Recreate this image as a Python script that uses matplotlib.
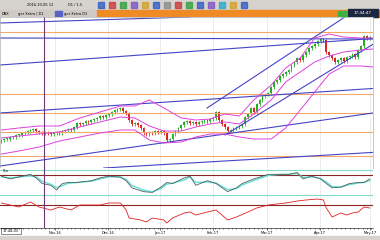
import numpy as np
import matplotlib
matplotlib.use("Agg")
import matplotlib.pyplot as plt
from matplotlib.patches import Rectangle

# ---- data (price in chart points, x = bar number) ----
closes = [28, 29, 29, 31, 31, 33, 33, 35, 36, 37, 38, 39, 37, 36, 35, 36, 35, 34, 35, 36,
          35, 37, 38, 39, 38, 41, 45, 44, 45, 47, 46, 48, 49, 50, 52, 51, 53, 54, 56, 58,
          59, 60, 57, 55, 48, 44, 45, 43, 40, 35, 34, 36, 35, 37, 36, 37, 35, 28, 29, 34,
          37, 40, 43, 46, 47, 45, 46, 44, 46, 47, 48, 47, 49, 50, 56, 48, 44, 41, 37, 38,
          40, 41, 42, 44, 51, 54, 60, 56, 64, 68, 72, 74, 75, 81, 86, 88, 92, 94, 96, 98,
          103, 106, 110, 108, 113, 116, 120, 122, 124, 127, 129, 128, 116, 113, 110, 106, 108, 110, 107, 111,
          112, 114, 111, 118, 122, 132, 130, 131]

bb_x = [0, 6, 13, 20, 27, 34, 41, 46, 51, 56, 62, 67, 72, 77, 82, 87, 93, 98, 103, 108, 113, 118, 124, 128]
bb_up = [38, 40, 42, 42, 50, 56, 62, 62, 68, 60, 50, 48, 49, 54, 52, 68, 83, 100, 110, 130, 134, 131, 130, 130]
bb_mid = [30, 32, 34, 36, 41, 46, 51, 50, 42, 37, 37, 41, 44, 46, 44, 54, 68, 86, 96, 106, 112, 116, 118, 119]
bb_low = [14, 17, 21, 27, 31, 35, 38, 38, 28, 25, 26, 31, 34, 34, 31, 29, 29, 40, 58, 76, 94, 102, 102, 101]

# trend lines: (x0, y0, x1, y1)
blue_lines = [(-0.5, 145, 65, 151), (-0.5, 130, 130.5, 129), (-0.5, 103, 130.5, 130),
              (70.9, 60, 118.4, 151), (77.1, 33, 130.5, 128), (-0.5, 55, 130.5, 80),
              (-0.5, 2, 130.5, 56), (35.3, 0, 130.5, 16)]
orange_levels = [136, 74, 55, 36, 12]
marker_bar = 14.7

osc_x = [0, 3, 10, 12, 14, 17, 19, 21, 23, 26, 31, 34, 37, 41, 43, 45, 49, 52, 55, 57, 59, 63,
         65, 67, 71, 74, 78, 81, 83, 87, 92, 96, 99, 102, 104, 107, 110, 112, 114, 117, 120, 123, 125, 127]
osc_k = [75, 64, 82, 68, 46, 39, 21, 46, 50, 50, 57, 68, 75, 71, 57, 29, 14, 11, 32, 50, 46, 68,
         75, 39, 57, 46, 14, 29, 46, 64, 82, 82, 82, 89, 64, 75, 64, 46, 29, 32, 46, 50, 50, 64]
osc_d = [72, 68, 76, 72, 55, 43, 30, 38, 47, 50, 55, 64, 72, 72, 62, 38, 20, 13, 26, 44, 47, 60,
         72, 50, 52, 48, 22, 26, 40, 58, 78, 82, 82, 86, 70, 72, 66, 52, 34, 32, 42, 48, 50, 58]

mom_x = [0, 3, 6, 10, 13, 17, 20, 24, 27, 31, 34, 37, 41, 43, 44, 48, 50, 52, 56, 57, 59, 63,
         65, 67, 71, 74, 78, 81, 85, 88, 92, 95, 98, 102, 105, 109, 111, 112, 114, 117, 119, 121, 123, 125, 127]
mom = [25, 23, 21, 26, 21, 18, 21, 18, 23, 23, 23, 25, 25, 18, 10, 8, 6, 10, 8, 5, 10, 15,
       16, 13, 16, 18, 8, 11, 16, 20, 23, 24, 25, 27, 28, 29, 28, 20, 11, 15, 13, 15, 16, 21, 20]

date_pos = [18.5, 36.7, 54.7, 72.9, 91.6, 109.8, 127]
date_lbl = ["Nov-16", "Dec-16", "Jan-17", "Feb-17", "Mar-17", "Apr-17", "May-17"]

W, H = 380, 240


def rect(x0, y0, x1, y1):
    return [x0 / W, 1 - y1 / H, (x1 - x0) / W, (y1 - y0) / H]


fig = plt.figure(figsize=(3.8, 2.4), dpi=100)
fig.patch.set_facecolor("white")

# window chrome
chrome = fig.add_axes([0, 0, 1, 1])
chrome.set_xlim(0, W)
chrome.set_ylim(H, 0)
chrome.axis("off")
chrome.add_patch(Rectangle((0, 0), W, 10, color="#d6d3ce"))
chrome.add_patch(Rectangle((0, 10), 97, 7, color="#cfcbc4"))
chrome.add_patch(Rectangle((97, 10), W - 97, 7, color="#f08a24"))
chrome.add_patch(Rectangle((348, 9), 30, 8, color="#1c2740"))
chrome.text(363, 13, "17:44:47", color="white", fontsize=3, ha="center", va="center")
chrome.add_patch(Rectangle((338, 11), 8, 5, color="#3cb043"))
chrome.text(2, 14, "DAX", fontsize=2.6, va="center")
chrome.text(18, 14, "ger Xetra | D1", fontsize=2.6, va="center")
chrome.add_patch(Rectangle((55, 11), 7, 5, color="#5a62c8"))
chrome.text(64, 14, "ger Xetra D1", fontsize=2.6, va="center")
chrome.text(27, 5, "2016.10.05 12", fontsize=2.6, va="center")
chrome.text(68, 5, "D1 / 1.5", fontsize=2.6, va="center")
icon_cols = ["#2a56c6", "#c83232", "#2a9d3a", "#7a4fc2", "#d4a020", "#2a56c6", "#888888",
             "#c83232", "#2a9d3a", "#2a56c6", "#7a4fc2", "#20a8c8", "#d4a020", "#2a56c6"]
for k, c in enumerate(icon_cols):
    chrome.add_patch(Rectangle((98 + k * 11, 2), 6, 6, color=c, alpha=0.75))
chrome.add_patch(Rectangle((0, 236), W, 4, color="#d6d3ce"))

# main price chart
ax = fig.add_axes(rect(0, 17, 373, 168))
x = np.arange(len(closes))
opens = [closes[0] - 1] + closes[:-1]
for i in x:
    o, c = opens[i], closes[i]
    col = "#22b022" if c >= o else "#dd2222"
    ax.vlines(i, min(o, c) - 1.5, max(o, c) + 1.5, color=col, lw=0.6)
    ax.bar(i, max(abs(c - o), 0.8), bottom=min(o, c), width=0.6, color=col, lw=0)
for lv in orange_levels:
    ax.axhline(lv, color="#f2a86a", lw=0.8)
for x0, y0, x1, y1 in blue_lines:
    ax.plot([x0, x1], [y0, y1], color="#4444c8", lw=0.8)
for band in (bb_up, bb_mid, bb_low):
    ax.plot(bb_x, band, color="#e040e0", lw=0.7)
for d in date_pos:
    ax.axvline(d, color="#e4e4e4", lw=0.5, zorder=0)
ax.set_xlim(-0.5, 128.1)
ax.set_ylim(0, 151)
ax.set_xticks([])
ax.set_yticks([])
for s in ax.spines.values():
    s.set_color("#b0b0b0")
    s.set_linewidth(0.5)

# stochastic panel
ax2 = fig.add_axes(rect(0, 168, 373, 197))
ax2.axhline(100, color="#80dcc8", lw=0.8)
ax2.axhline(0, color="#80dcc8", lw=0.8)
ax2.axhline(80, color="#8b2525", lw=0.8)
ax2.plot(osc_x, osc_d, color="#60e0d8", lw=1.0)
ax2.plot(osc_x, osc_k, color="#506060", lw=0.6)
for d in date_pos:
    ax2.axvline(d, color="#e4e4e4", lw=0.5, zorder=0)
ax2.text(0.5, 103, "Sto", fontsize=2.5, va="top")
ax2.set_xlim(-0.5, 128.1)
ax2.set_ylim(-7, 107)
ax2.set_xticks([])
ax2.set_yticks([])
for s in ax2.spines.values():
    s.set_visible(False)

# momentum panel
ax3 = fig.add_axes(rect(0, 197, 373, 228))
ax3.axhline(23, color="#8b2525", lw=0.8)
ax3.plot(mom_x, mom, color="#e02020", lw=0.6)
for d in date_pos:
    ax3.axvline(d, color="#e4e4e4", lw=0.5, zorder=0)
ax3.set_xlim(-0.5, 128.1)
ax3.set_ylim(0, 31)
ax3.set_yticks([])
ax3.set_xticks(date_pos)
ax3.set_xticklabels(date_lbl, fontsize=2.6)
ax3.tick_params(axis="x", length=1.5, width=0.4, pad=0.5)
ax3.set_xticks(np.arange(0, 128, 1.5), minor=True)
ax3.tick_params(axis="x", which="minor", length=1, width=0.4)
for s in ax3.spines.values():
    s.set_visible(False)
ax3.spines["bottom"].set_visible(True)
ax3.spines["bottom"].set_linewidth(0.4)

# purple vertical marker across all panels
for a in (ax, ax2, ax3):
    a.axvline(marker_bar, color="#6a3a78", lw=0.8)

chrome.add_patch(Rectangle((1, 228), 20, 6, facecolor="white", edgecolor="#333333", lw=0.4))
chrome.text(11, 231, "17:44:43", fontsize=2.6, ha="center", va="center")

fig.savefig("out.png", dpi=100)
